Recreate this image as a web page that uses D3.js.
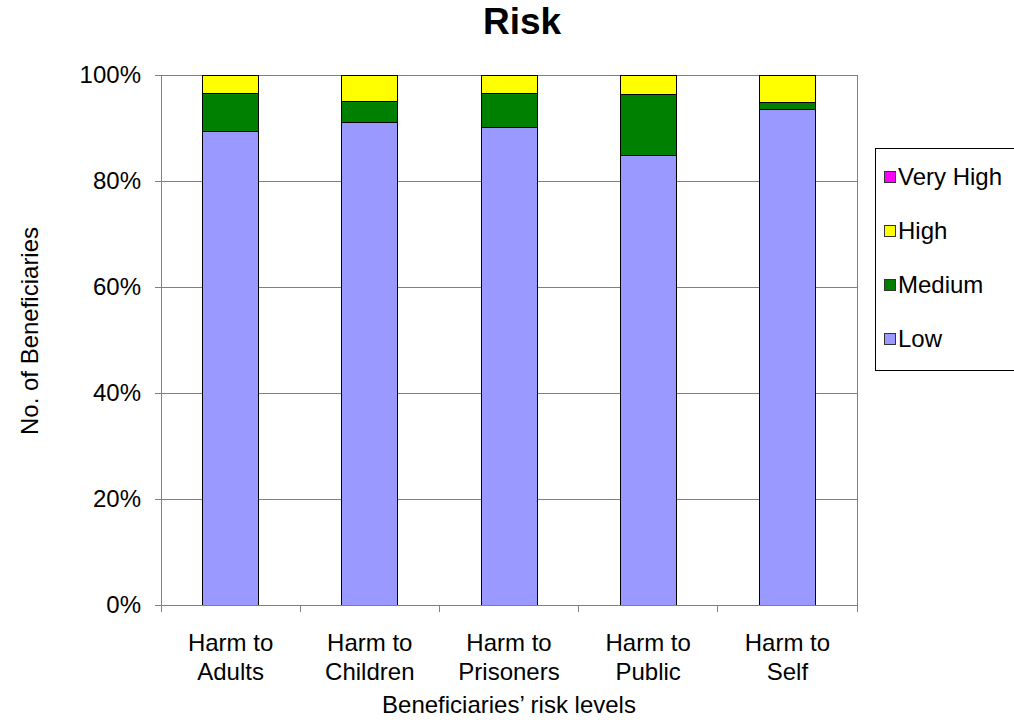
<!DOCTYPE html>
<html><head><meta charset="utf-8">
<script src="https://cdn.jsdelivr.net/npm/d3@7"></script>
<style>body{margin:0;background:#fff}text{font-family:"Liberation Sans",Arial,sans-serif}</style>
</head><body><svg id="c" width="1014" height="723"></svg>
<script>
const categories = [["Harm to","Adults"],["Harm to","Children"],["Harm to","Prisoners"],["Harm to","Public"],["Harm to","Self"]];
const seriesNames = ["Low","Medium","High","Very High"];
const low = [89.3, 91.0, 90.1, 84.8, 93.5];
const medium = [7.3, 4.0, 6.5, 11.5, 1.4];
const high = [3.4, 5.0, 3.4, 3.7, 5.1];
const veryHigh = [0, 0, 0, 0, 0];
const yTicks = [0, 20, 40, 60, 80, 100];
const colors = {"Low":"#9999ff","Medium":"#008000","High":"#ffff00","Very High":"#ff00ff"};

const svg = d3.select("#c");
const m = {l:161, r:857, t:75, b:605};
const x = d3.scaleBand().domain(d3.range(categories.length)).range([m.l, m.r]).paddingInner(0).paddingOuter(0);
const y = d3.scaleLinear().domain([0,100]).range([m.b, m.t]);
const FS = 24;

// gridlines
svg.append("g").selectAll("line").data(yTicks.filter(d=>d>0)).join("line")
  .attr("x1", m.l).attr("x2", m.r).attr("y1", d=>y(d)).attr("y2", d=>y(d))
  .attr("stroke","#808080").attr("stroke-width",1).attr("shape-rendering","crispEdges");
// right border
svg.append("line").attr("x1",m.r).attr("x2",m.r).attr("y1",m.t).attr("y2",m.b)
  .attr("stroke","#808080").attr("shape-rendering","crispEdges");

const rows = categories.map((c,i)=>({i, "Low":low[i], "Medium":medium[i], "High":high[i], "Very High":veryHigh[i]}));
const stack = d3.stack().keys(seriesNames)(rows);
const bw = 56;
svg.append("g").selectAll("g").data(stack).join("g").attr("fill", d=>colors[d.key])
  .selectAll("rect").data(d=>d.filter(p=>p[1]-p[0]>0)).join("rect")
  .attr("x", d=>x(d.data.i)+x.bandwidth()/2-bw/2).attr("width", bw)
  .attr("y", d=>y(d[1])).attr("height", d=>y(d[0])-y(d[1]))
  .attr("stroke","#000").attr("stroke-width",1).attr("shape-rendering","crispEdges");

// y axis
const ya = svg.append("g").attr("transform",`translate(${m.l},0)`)
  .call(d3.axisLeft(y).tickValues(yTicks).tickFormat(d=>d+"%").tickSize(6).tickPadding(14));
ya.select(".domain").attr("stroke","#808080");
ya.selectAll(".tick line").attr("stroke","#808080");
ya.selectAll("text").attr("font-size",FS).attr("fill","#000").style("font-family","'Liberation Sans',Arial,sans-serif");

// x axis
const xa = svg.append("g").attr("transform",`translate(0,${m.b})`);
xa.append("line").attr("x1",m.l).attr("x2",m.r).attr("stroke","#808080").attr("shape-rendering","crispEdges");
const bounds = d3.range(categories.length+1).map(i=> i<categories.length ? x(i) : m.r);
xa.selectAll(".tk").data(bounds).join("line").attr("class","tk")
  .attr("x1",d=>d).attr("x2",d=>d).attr("y1",0).attr("y2",7).attr("stroke","#808080").attr("shape-rendering","crispEdges");
const lbl = xa.selectAll(".lbl").data(categories).join("text").attr("class","lbl")
  .attr("text-anchor","middle").attr("font-size",FS).attr("fill","#000");
lbl.append("tspan").attr("x",(d,i)=>x(i)+x.bandwidth()/2).attr("y",46).text(d=>d[0]);
lbl.append("tspan").attr("x",(d,i)=>x(i)+x.bandwidth()/2).attr("y",75).text(d=>d[1]);

// titles
svg.append("text").attr("x",522).attr("y",34).attr("text-anchor","middle").attr("font-size",37).attr("font-weight","bold").text("Risk");
svg.append("text").attr("x",509).attr("y",713).attr("text-anchor","middle").attr("font-size",FS).text("Beneficiaries’ risk levels");
svg.append("text").attr("transform","translate(38,331) rotate(-90)").attr("text-anchor","middle").attr("font-size",FS).text("No. of Beneficiaries");

// legend
const lg = svg.append("g");
lg.append("rect").attr("x",875.5).attr("y",148.5).attr("width",150).attr("height",222).attr("fill","#fff").attr("stroke","#000");
const legItems = seriesNames.slice().reverse();
const li = lg.selectAll(".li").data(legItems).join("g").attr("class","li")
  .attr("transform",(d,i)=>`translate(884,${177+i*54})`);
li.append("rect").attr("x",0.5).attr("y",-5.5).attr("width",11).attr("height",11).attr("fill",d=>colors[d]).attr("stroke","#333");
li.append("text").attr("x",14).attr("y",7.5).attr("font-size",FS).text(d=>d);
</script></body></html>
